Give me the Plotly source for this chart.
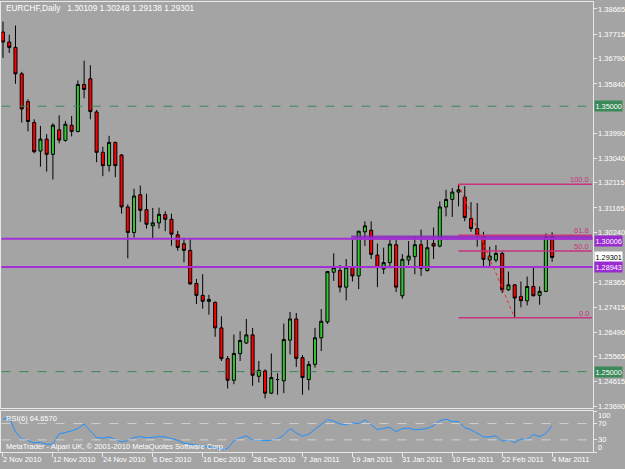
import plotly.graph_objects as go
import pandas as pd

W, H = 625, 469

# ---------------- data ----------------
dates = [d.strftime("%Y-%m-%d") for d in pd.bdate_range("2010-11-02", "2011-03-04")]

opens = [
    1.37793, 1.37418, 1.37216, 1.36220, 1.35172, 1.34386, 1.33311, 1.33761, 1.33188, 1.34109,
    1.33712, 1.34285, 1.34049, 1.35820, 1.36033, 1.34783, 1.33263, 1.32761, 1.33637, 1.33162,
    1.31204, 1.30242, 1.31664, 1.31103, 1.30492, 1.30605, 1.30915, 1.30739, 1.30155, 1.29819,
    1.29568, 1.28321, 1.27872, 1.27647, 1.27610, 1.26648, 1.25487, 1.24675, 1.25674, 1.26075,
    1.26385, 1.24824, 1.25026, 1.24188, 1.24701, 1.24652, 1.26187, 1.26984, 1.25524, 1.24701,
    1.25273, 1.26273, 1.26872, 1.28744, 1.28808, 1.28182, 1.28931, 1.28606, 1.30268, 1.30328,
    1.29392, 1.28868, 1.29107, 1.29781, 1.27857, 1.29205, 1.29332, 1.29781, 1.28808, 1.29830,
    1.29729, 1.31204, 1.31488, 1.31765, 1.31578, 1.30766, 1.30391, 1.30118, 1.29205, 1.29205,
    1.29455, 1.28081, 1.28269, 1.27834, 1.27670, 1.28209, 1.27872, 1.28022, 1.30109]

highs = [
    1.38190, 1.37692, 1.38040, 1.36295, 1.35258, 1.34509, 1.34259, 1.33948, 1.34360, 1.34659,
    1.34446, 1.34633, 1.35970, 1.36718, 1.36542, 1.34858, 1.33472, 1.33884, 1.33660, 1.33199,
    1.31301, 1.31889, 1.32012, 1.31702, 1.31166, 1.31178, 1.31039, 1.30953, 1.30305, 1.30017,
    1.30017, 1.28493, 1.28669, 1.27894, 1.27647, 1.27086, 1.25588, 1.26397, 1.26524, 1.26984,
    1.26648, 1.25401, 1.25086, 1.25685, 1.24937, 1.26809, 1.27247, 1.27209, 1.25625, 1.25401,
    1.26648, 1.27359, 1.28793, 1.29455, 1.29017, 1.29242, 1.29980, 1.30300, 1.30665, 1.30665,
    1.29830, 1.29669, 1.29991, 1.29980, 1.29429, 1.29916, 1.30103, 1.30354, 1.30043, 1.30429,
    1.31413, 1.31851, 1.31915, 1.32060, 1.31990, 1.31391, 1.31353, 1.30268, 1.29706, 1.29766,
    1.29519, 1.28770, 1.28295, 1.28396, 1.28583, 1.28920, 1.28209, 1.30204, 1.30248]

lows = [
    1.36819, 1.37007, 1.35846, 1.34386, 1.34049, 1.33225, 1.32724, 1.32536, 1.32237, 1.33600,
    1.33660, 1.33862, 1.34012, 1.35296, 1.34509, 1.32888, 1.32364, 1.32536, 1.32327, 1.30953,
    1.29268, 1.30054, 1.30642, 1.30391, 1.29991, 1.30391, 1.30290, 1.29744, 1.29556, 1.29118,
    1.28269, 1.27546, 1.27370, 1.27145, 1.26311, 1.25401, 1.24364, 1.24525, 1.25401, 1.26049,
    1.24465, 1.24588, 1.23989, 1.24150, 1.24128, 1.24188, 1.25648, 1.25176, 1.24128, 1.24300,
    1.25150, 1.25775, 1.26797, 1.28418, 1.27984, 1.27685, 1.28396, 1.28108, 1.29729, 1.29242,
    1.28182, 1.28680, 1.28894, 1.27995, 1.27744, 1.29017, 1.28669, 1.28606, 1.28770, 1.29242,
    1.29680, 1.30852, 1.30829, 1.31226, 1.30665, 1.30268, 1.29706, 1.28931, 1.28957, 1.29118,
    1.27958, 1.28044, 1.27030, 1.27422, 1.27497, 1.27840, 1.27520, 1.27995, 1.29138]

closes = [
    1.37418, 1.37216, 1.36220, 1.34895, 1.34423, 1.33285, 1.33761, 1.33188, 1.34285, 1.33723,
    1.34322, 1.34049, 1.35820, 1.35633, 1.34798, 1.33263, 1.32761, 1.33637, 1.32761, 1.31204,
    1.30242, 1.31616, 1.31076, 1.30552, 1.30605, 1.30927, 1.30739, 1.30178, 1.29680, 1.29568,
    1.28306, 1.27872, 1.27647, 1.27722, 1.26648, 1.25487, 1.24675, 1.25685, 1.26172, 1.26385,
    1.24862, 1.25049, 1.24188, 1.24776, 1.24701, 1.26210, 1.26984, 1.25498, 1.24776, 1.25273,
    1.26273, 1.26898, 1.28770, 1.28920, 1.28182, 1.28931, 1.28606, 1.30290, 1.30492, 1.29418,
    1.28920, 1.29107, 1.29804, 1.28182, 1.29231, 1.29354, 1.29781, 1.28894, 1.29669, 1.29729,
    1.31204, 1.31488, 1.31765, 1.31851, 1.30803, 1.30391, 1.30118, 1.29231, 1.29354, 1.29455,
    1.28081, 1.28269, 1.27771, 1.27670, 1.28209, 1.27857, 1.28022, 1.30081, 1.29301]

rsi6 = [
    81, 84, 50, 33, 28, 22, 24, 19, 20, 45,
    48, 52, 58, 69, 52, 36, 34, 37, 31, 25,
    28, 36, 38, 35, 36, 38, 37, 33, 29, 22,
    19, 17, 15, 13, 11, 8, 9, 28, 35, 40,
    30, 29, 28, 29, 32, 42, 58, 47, 39, 44,
    56, 67, 80, 76, 69, 67, 72, 70, 79, 67,
    55, 58, 61, 50, 58, 59, 55, 56, 58, 65,
    77, 81, 75, 75, 60, 55, 46, 37, 37, 40,
    27, 30, 23, 32, 31, 43, 38, 46, 64.657]

date_labels = ["2 Nov 2010", "12 Nov 2010", "24 Nov 2010", "6 Dec 2010", "16 Dec 2010",
               "28 Dec 2010", "7 Jan 2011", "19 Jan 2011", "31 Jan 2011", "10 Feb 2011",
               "22 Feb 2011", "4 Mar 2011"]
date_label_idx = [0, 8, 16, 24, 32, 40, 48, 56, 64, 72, 80, 88]

# 1.34915 lies under the 1.35000 level box in the original, so it is not drawn here
price_ticks = [1.38665, 1.37715, 1.36790, 1.35840, 1.33990, 1.33040, 1.32115,
               1.31165, 1.30240, 1.28365, 1.27415, 1.26490, 1.25565, 1.24615, 1.23690]

green_levels = [1.35000, 1.25000]
purple_levels = [1.30006, 1.28943]
bid_price = 1.29301
fib_hi_idx, fib_lo_idx = 73, 82
fib_ratios = [1.0, 0.618, 0.5, 0.0]
fib_names = ["100.0", "61.8", "50.0", "0.0"]
rsi_levels = [30, 70]
rsi_labels = ["100", "70", "30", "0"]

# ---------------- style ----------------
BG = "#A4A4A4"
FRAME = "#E8E8E8"
FONT = "Liberation Sans, Arial, sans-serif"
GREEN = "#33C633"
RED = "#FF0000"
PURPLE = "#A42FD6"
FIB = "#C8327F"
LVL_GREEN = "#3A8A58"


def py(p):
    return (H - p) / H


def px(p):
    return p / W


X0, X1 = 1.5, 593.5
BAR0, STEP = 3.0, 6.25
xr = [(X0 - BAR0) / STEP, (X1 - BAR0) / STEP]
Y_TOP, Y_BOT = 2.0, 411.0
PX_PER = 400.0 / (1.38665 - 1.23690)
yr = [1.38665 - (Y_BOT - 9) / PX_PER, 1.38665 + (9 - Y_TOP) / PX_PER]

fig = go.Figure()
fig.add_trace(go.Candlestick(
    x=dates, open=opens, high=highs, low=lows, close=closes,
    increasing=dict(fillcolor=GREEN, line=dict(color="#000000", width=1)),
    decreasing=dict(fillcolor=RED, line=dict(color="#000000", width=1)),
    whiskerwidth=0, xaxis="x", yaxis="y", showlegend=False, hoverinfo="skip"))
fig.add_trace(go.Scatter(
    x=dates, y=rsi6, mode="lines", line=dict(color="#1E90FF", width=1),
    xaxis="x2", yaxis="y2", showlegend=False, hoverinfo="skip"))

shapes = []
for lv in green_levels:
    shapes.append(dict(type="line", xref="x domain", x0=0, x1=1, yref="y", y0=lv, y1=lv,
                       line=dict(color=LVL_GREEN, width=1, dash="dash")))
shapes.append(dict(type="rect", xref="x", x0=55.8, x1=xr[1], yref="y",
                   y0=purple_levels[0] - 0.0004, y1=purple_levels[0] + 0.0012,
                   fillcolor="#8A28C0", line=dict(width=0), opacity=0.85))
for lv in purple_levels:
    shapes.append(dict(type="line", xref="x domain", x0=0, x1=1, yref="y", y0=lv, y1=lv,
                       line=dict(color=PURPLE, width=2)))
fib_hi = highs[fib_hi_idx]
fib_lo = lows[fib_lo_idx]
for r in fib_ratios:
    lv = fib_lo + r * (fib_hi - fib_lo)
    shapes.append(dict(type="line", xref="x", x0=fib_hi_idx, x1=xr[1] - 0.1, yref="y", y0=lv, y1=lv,
                       line=dict(color=FIB, width=1.6)))
shapes.append(dict(type="line", xref="x", x0=fib_hi_idx, x1=fib_lo_idx, yref="y",
                   y0=fib_hi, y1=fib_lo, line=dict(color="#FF2020", width=1, dash="dot")))
for lv in rsi_levels:
    shapes.append(dict(type="line", xref="x2 domain", x0=0, x1=1, yref="y2", y0=lv, y1=lv,
                       line=dict(color="#D2D2D2", width=1, dash="dash")))

ann = []
tf = dict(family=FONT, size=7.5, color="#FFFFFF")
ann.append(dict(text="EURCHF,Daily\u00a0\u00a0 1.30109 1.30248 1.29138 1.29301",
                xref="paper", yref="paper", x=px(4), y=py(8), xanchor="left", yanchor="middle",
                showarrow=False, font=dict(family=FONT, size=8.3, color="#FFFFFF")))
ann.append(dict(text="RSI(6) 64.6570", xref="paper", yref="paper", x=px(4), y=py(421),
                xanchor="left", yanchor="middle", showarrow=False, font=tf))
ann.append(dict(text="MetaTrader - Alpari UK, \u00a9 2001-2010 MetaQuotes Software Corp.",
                xref="paper", yref="paper", x=px(4), y=py(449.5), xanchor="left", yanchor="middle",
                showarrow=False, font=tf))
for lab, ypix in zip(rsi_labels, [418.3, 426.3, 442.5, 450.0]):
    ann.append(dict(text=lab, xref="paper", yref="paper", x=px(597), y=py(ypix), xanchor="left",
                    yanchor="middle", showarrow=False, font=tf))
for lab, i in zip(date_labels, date_label_idx):
    ann.append(dict(text=lab, xref="x2", yref="paper", x=dates[i], y=py(462.5), xanchor="left",
                    yanchor="middle", xshift=-2, showarrow=False, font=tf))
for lab, r in zip(fib_names, fib_ratios):
    lv = fib_lo + r * (fib_hi - fib_lo)
    ann.append(dict(text=lab, xref="paper", yref="y", x=px(592), y=lv, xanchor="right",
                    yanchor="bottom", yshift=-2, showarrow=False,
                    font=dict(family=FONT, size=7.5, color=FIB)))
boxes = [(green_levels[0], LVL_GREEN, "#FFFFFF", 0), (purple_levels[0], "#9A2BD0", "#FFFFFF", -2),
         (bid_price, "#FFFFFF", "#000000", 0), (purple_levels[1], "#9A2BD0", "#FFFFFF", 0),
         (green_levels[1], LVL_GREEN, "#FFFFFF", 0)]
for lv, bg, fc, ys in boxes:
    ann.append(dict(text=f"{lv:.5f}", xref="paper", yref="y", x=px(595), y=lv, xanchor="left",
                    yanchor="middle", yshift=ys, showarrow=False, bgcolor=bg, borderpad=0.5,
                    font=dict(family=FONT, size=7.3, color=fc)))

fig.update_layout(
    width=W, height=H, margin=dict(l=0, r=0, t=0, b=0),
    paper_bgcolor=BG, plot_bgcolor=BG, showlegend=False,
    xaxis=dict(domain=[px(X0), px(X1)], type="category", range=xr, anchor="y",
               showgrid=False, showticklabels=False, ticks="", zeroline=False,
               showline=True, mirror=True, linecolor=FRAME, linewidth=1,
               rangeslider=dict(visible=False)),
    yaxis=dict(domain=[py(Y_BOT), py(Y_TOP)], range=yr, anchor="x", side="right",
               tickvals=price_ticks, ticktext=[f"{v:.5f}" for v in price_ticks],
               ticks="outside", ticklen=3, tickcolor=FRAME, tickfont=tf,
               showgrid=False, zeroline=False, showline=True, mirror=True,
               linecolor=FRAME, linewidth=1),
    xaxis2=dict(domain=[px(X0), px(X1)], type="category", range=xr, anchor="y2",
                tickvals=[dates[i] for i in date_label_idx], ticks="outside", ticklen=4,
                tickcolor=FRAME, showticklabels=False, showgrid=False, zeroline=False,
                showline=True, mirror=True, linecolor=FRAME, linewidth=1),
    yaxis2=dict(domain=[py(455), py(414)], range=[0, 100], anchor="x2", side="right",
                tickvals=[0, 30, 70, 100], ticks="outside", ticklen=3, tickcolor=FRAME,
                showticklabels=False, showgrid=False, zeroline=False, showline=True,
                mirror=True, linecolor=FRAME, linewidth=1),
    shapes=shapes, annotations=ann, boxgap=0.3,
)

fig.write_html("out.html")
